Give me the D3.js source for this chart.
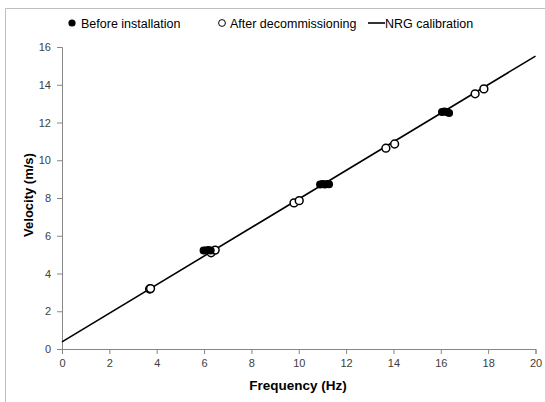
<!DOCTYPE html>
<html><head><meta charset="utf-8">
<script src="https://cdn.jsdelivr.net/npm/d3@7"></script>
<style>body{margin:0;background:#fff}svg{display:block}</style>
</head><body>
<script>
const beforeFreq = [5.98, 6.08, 6.18, 6.28, 10.9, 11.0, 11.1, 11.2, 11.28, 16.05, 16.15, 16.25, 16.35];
const beforeVel  = [5.22, 5.22, 5.24, 5.22, 8.72, 8.74, 8.72, 8.74, 8.73, 12.56, 12.58, 12.56, 12.5];
const afterFreq = [3.7, 3.74, 6.3, 6.47, 9.8, 10.02, 13.68, 14.05, 17.45, 17.82];
const afterVel  = [3.18, 3.2, 5.1, 5.24, 7.74, 7.86, 10.64, 10.86, 13.52, 13.78];
const calibFreq = [0, 20];
const calibVel  = [0.38, 15.52];
const xTicks = [0,2,4,6,8,10,12,14,16,18,20];
const yTicks = [0,2,4,6,8,10,12,14,16];
const legendLabels = ["Before installation", "After decommissioning", "NRG calibration"];

const W = 545, H = 402;
const svg = d3.select("body").append("svg").attr("width", W).attr("height", H);
const font = "'Liberation Sans', Arial, sans-serif";

// outer frame
svg.append("path").attr("d", `M5.5,${H} V8.5 H${W}`).attr("fill","none").attr("stroke","#bfbfbf").attr("stroke-width",1);

const x = d3.scaleLinear().domain([0,20]).range([62, 535.5]);
const y = d3.scaleLinear().domain([0,16]).range([349, 47]);

const axisColor = "#868686";
const gx = svg.append("g").attr("transform", `translate(0,${y(0)})`)
  .call(d3.axisBottom(x).tickValues(xTicks).tickSize(5).tickPadding(5).tickFormat(d3.format("d")));
const gy = svg.append("g").attr("transform", `translate(${x(0)},0)`)
  .call(d3.axisLeft(y).tickValues(yTicks).tickSize(5).tickPadding(6).tickFormat(d3.format("d")));
[gx, gy].forEach(g => {
  g.selectAll("path, line").attr("stroke", axisColor);
  g.selectAll("text").attr("fill", "#404040").style("font-family", font).style("font-size", "11px");
});

// calibration line
const line = d3.line().x(d => x(d[0])).y(d => y(d[1]));
svg.append("path").datum(calibFreq.map((f,i)=>[f, calibVel[i]]))
  .attr("d", line).attr("fill","none").attr("stroke","#000").attr("stroke-width",1.6);

// after decommissioning (open)
svg.append("g").selectAll("circle").data(afterFreq.map((f,i)=>[f, afterVel[i]])).join("circle")
  .attr("cx", d=>x(d[0])).attr("cy", d=>y(d[1])).attr("r", 3.9)
  .attr("fill","#fff").attr("stroke","#000").attr("stroke-width",1.5);

// before installation (filled)
svg.append("g").selectAll("circle").data(beforeFreq.map((f,i)=>[f, beforeVel[i]])).join("circle")
  .attr("cx", d=>x(d[0])).attr("cy", d=>y(d[1])).attr("r", 4)
  .attr("fill","#000");

// axis titles
svg.append("text").attr("x", 298).attr("y", 390).attr("text-anchor","middle")
  .style("font-family", font).style("font-size","13.5px").style("font-weight","bold").attr("fill","#000")
  .text("Frequency (Hz)");
svg.append("text").attr("transform", "translate(33,195) rotate(-90)").attr("text-anchor","middle")
  .style("font-family", font).style("font-size","13px").style("font-weight","bold").attr("fill","#000")
  .text("Velocity (m/s)");

// legend
const lg = svg.append("g").style("font-family", font).style("font-size","12.5px").attr("fill","#000");
lg.append("circle").attr("cx", 72).attr("cy", 23).attr("r", 3.6).attr("fill","#000");
lg.append("text").attr("x", 81).attr("y", 27.5).text(legendLabels[0]);
lg.append("circle").attr("cx", 222).attr("cy", 23).attr("r", 3.4).attr("fill","#fff").attr("stroke","#000").attr("stroke-width",1);
lg.append("text").attr("x", 230).attr("y", 27.5).text(legendLabels[1]);
lg.append("line").attr("x1", 368).attr("x2", 385).attr("y1", 23).attr("y2", 23).attr("stroke","#000").attr("stroke-width",1.6);
lg.append("text").attr("x", 385).attr("y", 27.5).text(legendLabels[2]);
</script>
</body></html>
